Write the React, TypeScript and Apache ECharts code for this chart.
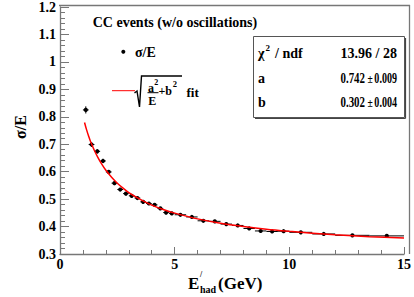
import React, { useEffect, useRef } from "react";
import * as echarts from "echarts";

// Bin centers (GeV), half bin widths, measured sigma/E and its error
const binCenters = [
  1.125, 1.375, 1.625, 1.875, 2.125, 2.375, 2.625, 2.875, 3.125, 3.375,
  3.625, 3.875, 4.125, 4.375, 4.625, 4.875, 5.25, 5.75, 6.25, 6.75,
  7.25, 7.75, 8.25, 8.75, 9.25, 9.75, 10.5, 11.5, 12.75, 14.25,
];
const binHalfWidths = [
  0.125, 0.125, 0.125, 0.125, 0.125, 0.125, 0.125, 0.125, 0.125, 0.125,
  0.125, 0.125, 0.125, 0.125, 0.125, 0.125, 0.25, 0.25, 0.25, 0.25,
  0.25, 0.25, 0.25, 0.25, 0.25, 0.25, 0.5, 0.5, 0.75, 0.75,
];
const sigmaOverE = [
  0.825, 0.699, 0.674, 0.639, 0.599, 0.558, 0.535, 0.52, 0.512, 0.504,
  0.49, 0.484, 0.479, 0.466, 0.451, 0.448, 0.443, 0.435, 0.421, 0.419,
  0.409, 0.404, 0.393, 0.384, 0.382, 0.383, 0.379, 0.373, 0.368, 0.366,
];
const sigmaErr = [
  0.013, 0.009, 0.008, 0.008, 0.007, 0.007, 0.006, 0.006, 0.006, 0.005,
  0.005, 0.005, 0.005, 0.005, 0.005, 0.005, 0.004, 0.004, 0.004, 0.004,
  0.004, 0.004, 0.004, 0.004, 0.004, 0.004, 0.004, 0.004, 0.004, 0.004,
];

// Fit curve
const fitE = [1.07, 1.15, 1.25, 1.35, 1.5, 1.65, 1.8, 2.0, 2.25, 2.5, 2.75, 3.0, 3.5, 4.0, 4.5, 5.0, 6.0, 7.0, 8.0, 9.0, 10.0, 11.0, 12.0, 13.5, 15.0];
const fitValues = [0.779, 0.755, 0.729, 0.706, 0.677, 0.652, 0.63, 0.605, 0.58, 0.558, 0.54, 0.524, 0.499, 0.478, 0.462, 0.449, 0.428, 0.412, 0.4, 0.39, 0.3825, 0.376, 0.37, 0.363, 0.358];

// Fit statistics
const statLabels = ["a", "b"];
const statValues = ["0.742", "0.302"];
const statErrors = ["0.009", "0.004"];
const chiText = "13.96 / 28";

const titleText = "CC events (w/o oscillations)";
const legendPoints = "σ/E";

const FONT = "Liberation Serif";

export default function App() {
  const ref = useRef<HTMLDivElement>(null);
  useEffect(() => {
    if (!ref.current) return;
    const chart = echarts.init(ref.current, null, { renderer: "svg" });
    const txt = (x: number, y: number, text: string, size: number, align = "left", sx = 1) => ({
      type: "text",
      x,
      y,
      scaleX: sx,
      style: {
        text,
        fontFamily: FONT,
        fontWeight: "bold",
        fontSize: size,
        fill: "#000",
        align,
        verticalAlign: "middle",
      },
      z: 100,
    });
    const graphic: any[] = [
      // frame top and right
      { type: "line", shape: { x1: 59, y1: 5.5, x2: 410, y2: 5.5 }, style: { stroke: "#777", lineWidth: 1.3 }, z: 50 },
      { type: "line", shape: { x1: 409.5, y1: 5, x2: 409.5, y2: 254 }, style: { stroke: "#777", lineWidth: 1.3 }, z: 50 },
      txt(92.7, 22, titleText, 14),
      // legend: points
      { type: "circle", shape: { cx: 123.3, cy: 51.7, r: 2 }, style: { fill: "#000" }, z: 100 },
      txt(135, 52, legendPoints, 14),
      // legend: fit
      { type: "line", shape: { x1: 112, y1: 90.7, x2: 135, y2: 90.7 }, style: { stroke: "#ff0000", lineWidth: 1 }, z: 100 },
      {
        type: "polyline",
        shape: { points: [[134.5, 93], [137, 91], [139.5, 107], [141.5, 76], [182, 76]] },
        style: { stroke: "#000", lineWidth: 1.4, fill: null },
        z: 100,
      },
      txt(148, 87.5, "a", 12),
      txt(154.2, 82, "2", 8),
      { type: "line", shape: { x1: 147.5, y1: 92.7, x2: 158.5, y2: 92.7 }, style: { stroke: "#000", lineWidth: 1 }, z: 100 },
      txt(148.3, 101, "E", 12),
      txt(158.5, 91, "+b", 12),
      txt(172.8, 83.5, "2", 8.5),
      txt(186.5, 92, "fit", 13),
      // stats box
      { type: "line", shape: { x1: 405.5, y1: 38, x2: 405.5, y2: 118.5 }, style: { stroke: "#444", lineWidth: 1.2 }, z: 90 },
      { type: "line", shape: { x1: 255, y1: 118.5, x2: 405.5, y2: 118.5 }, style: { stroke: "#444", lineWidth: 1.2 }, z: 90 },
      { type: "rect", shape: { x: 253.5, y: 36.5, width: 151, height: 81 }, style: { fill: "#fff", stroke: "#555", lineWidth: 1 }, z: 91 },
      txt(258, 53.3, "χ", 14),
      txt(265.5, 48, "2", 9),
      txt(275, 53.3, "/ ndf", 14),
      txt(397, 53.3, chiText, 14, "right"),
    ];
    statLabels.forEach((l, i) => {
      const y = 78.3 + i * 24.4;
      graphic.push(txt(258, y, l, 14));
      graphic.push(txt(365, y, statValues[i], 14, "right", 0.78));
      graphic.push(txt(367.5, y, "±", 12, "left", 0.8));
      graphic.push(txt(397, y, statErrors[i], 14, "right", 0.72));
    });
    // axis titles
    graphic.push({
      type: "text",
      x: 20,
      y: 127,
      rotation: Math.PI / 2,
      style: { text: "σ/E", fontFamily: FONT, fontWeight: "bold", fontSize: 16, fill: "#000", align: "center", verticalAlign: "middle" },
      z: 100,
    });
    graphic.push(txt(188, 283, "E", 17));
    graphic.push(txt(200, 274.5, "/", 8));
    graphic.push(txt(200, 289.5, "had", 10));
    graphic.push(txt(218, 283, "(GeV)", 17));

    const pts = binCenters.map((x, i) => [x, sigmaOverE[i], binHalfWidths[i], sigmaErr[i]]);
    const fit = fitE.map((e, i) => [e, fitValues[i]]);
    const axisLabel = { fontFamily: FONT, fontWeight: "bold", fontSize: 14, color: "#000" };

    chart.setOption({
      animation: false,
      grid: { left: 60, right: 9, top: 6, bottom: 43 },
      xAxis: {
        type: "value",
        min: 0,
        max: 15,
        interval: 5,
        axisLine: { lineStyle: { color: "#777", width: 1.3 } },
        axisTick: { inside: true, length: 7, lineStyle: { color: "#777" } },
        minorTick: { show: true, splitNumber: 5, length: 4, lineStyle: { color: "#777" } },
        splitLine: { show: false },
        axisLabel: { ...axisLabel, margin: 3 },
      },
      yAxis: {
        type: "value",
        min: 0.3,
        max: 1.2,
        interval: 0.1,
        axisLine: { lineStyle: { color: "#777", width: 1.3 } },
        axisTick: { inside: true, length: 9, lineStyle: { color: "#777" } },
        minorTick: { show: true, splitNumber: 5, length: 5, lineStyle: { color: "#777" } },
        splitLine: { show: false },
        axisLabel: { ...axisLabel, margin: 4, formatter: (v: number) => String(Math.round(v * 10) / 10) },
      },
      series: [
        {
          type: "custom",
          data: pts,
          encode: { x: 0, y: 1 },
          z: 2,
          renderItem: (_p: any, api: any) => {
            const x = api.value(0);
            const y = api.value(1);
            const xe = api.value(2);
            const ye = api.value(3);
            const c = api.coord([x, y]);
            const l = api.coord([x - xe, y]);
            const r = api.coord([x + xe, y]);
            const t = api.coord([x, y + ye]);
            const b = api.coord([x, y - ye]);
            return {
              type: "group",
              children: [
                { type: "line", shape: { x1: l[0], y1: c[1], x2: r[0], y2: c[1] }, style: { stroke: "#000", lineWidth: 1 } },
                { type: "line", shape: { x1: c[0], y1: t[1], x2: c[0], y2: b[1] }, style: { stroke: "#000", lineWidth: 1 } },
                { type: "circle", shape: { cx: c[0], cy: c[1], r: 2.1 }, style: { fill: "#000" } },
              ],
            };
          },
        },
        {
          type: "line",
          data: fit,
          smooth: 0.3,
          showSymbol: false,
          z: 3,
          lineStyle: { color: "#ff0000", width: 1.5 },
        },
      ],
      graphic,
    });
    return () => chart.dispose();
  }, []);
  return <div ref={ref} style={{ position: "fixed", left: 0, top: 0, width: 414, height: 297, background: "#fff" }} />;
}
